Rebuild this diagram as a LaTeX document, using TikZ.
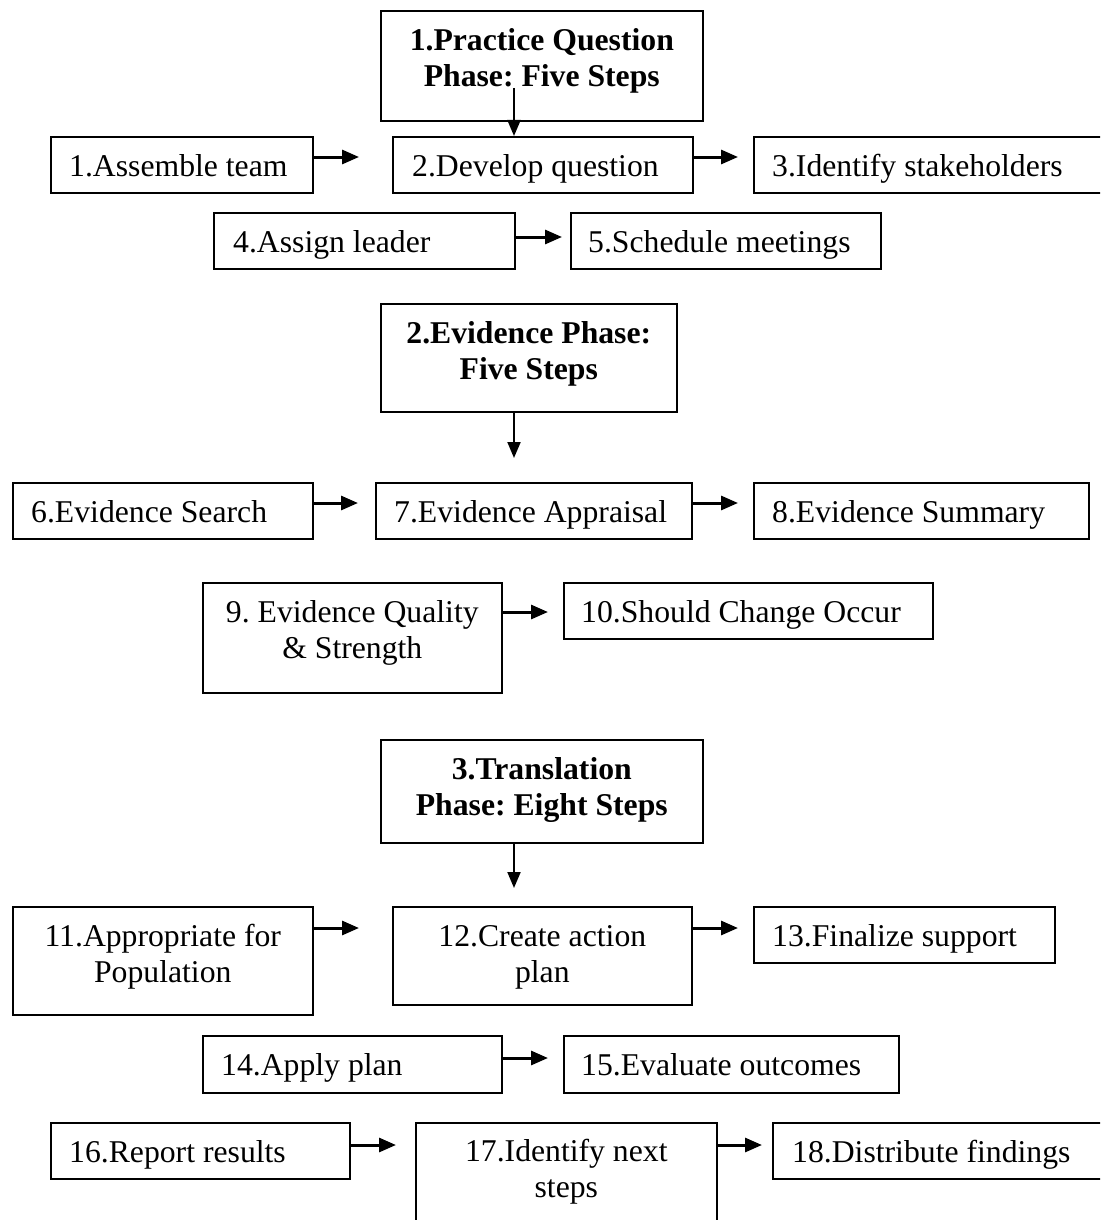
\documentclass[tikz,border=0pt]{standalone}
\usepackage{fontspec}
\setmainfont{Liberation Serif}
\usetikzlibrary{arrows.meta,calc}
\frenchspacing
\newcommand\stepfont{\fontsize{31.7}{36}\selectfont\frenchspacing}
\newcommand\stepstrut{\rule{0pt}{25pt}}
\begin{document}
\begin{tikzpicture}[x=1pt,y=-1pt,
  box/.style={draw, line width=1.6pt, inner sep=0pt, anchor=north west},
  ltxt/.style={anchor=north west, inner sep=0pt, font=\stepfont},
  ctxt/.style={anchor=north, inner sep=0pt, align=center, font=\stepfont},
  htxt/.style={anchor=north, inner sep=0pt, align=center, font=\stepfont\bfseries},
  harr/.style={line width=3pt, -{Triangle[length=17pt,width=14pt]}},
  varr/.style={line width=2pt, -{Triangle[length=16pt,width=13pt]}}]
\clip (0,0) rectangle (1100,1220);
\fill[white] (0,0) rectangle (1100,1220);

% ---------- boxes ----------
\node[box, minimum width=322pt, minimum height=110pt] (hA) at (380,10) {};
\node[box, minimum width=262pt, minimum height=56pt] (b1) at (50,136) {};
\node[box, minimum width=300pt, minimum height=56pt] (b2) at (392,136) {};
\node[box, minimum width=360pt, minimum height=56pt] (b3) at (753,136) {};
\node[box, minimum width=301pt, minimum height=56pt] (b4) at (213,212) {};
\node[box, minimum width=310pt, minimum height=56pt] (b5) at (570,212) {};

\node[box, minimum width=296pt, minimum height=108pt] (hB) at (380,303) {};
\node[box, minimum width=300pt, minimum height=56pt] (b6) at (12,482) {};
\node[box, minimum width=316pt, minimum height=56pt] (b7) at (375,482) {};
\node[box, minimum width=335pt, minimum height=56pt] (b8) at (753,482) {};
\node[box, minimum width=299pt, minimum height=110pt] (b9) at (202,582) {};
\node[box, minimum width=369pt, minimum height=56pt] (b10) at (563,582) {};

\node[box, minimum width=322pt, minimum height=103pt] (hC) at (380,739) {};
\node[box, minimum width=300pt, minimum height=108pt] (b11) at (12,906) {};
\node[box, minimum width=299pt, minimum height=98pt] (b12) at (392,906) {};
\node[box, minimum width=301pt, minimum height=56pt] (b13) at (753,906) {};
\node[box, minimum width=299pt, minimum height=57pt] (b14) at (202,1035) {};
\node[box, minimum width=335pt, minimum height=57pt] (b15) at (563,1035) {};
\node[box, minimum width=299pt, minimum height=56pt] (b16) at (50,1122) {};
\node[box, minimum width=301pt, minimum height=120pt] (b17) at (415,1122) {};
\node[box, minimum width=340pt, minimum height=56pt] (b18) at (772,1122) {};

% ---------- texts ----------
\node[htxt] (tA) at ($(hA.north)+(0,15)$) {\stepstrut 1.Practice Question\\Phase: Five Steps};
\node[ltxt] (t1) at ($(b1.north west)+(19,15)$) {\stepstrut 1.Assemble team};
\node[ltxt] (t2) at ($(b2.north west)+(20,15)$) {\stepstrut 2.Develop question};
\node[ltxt] (t3) at ($(b3.north west)+(19,15)$) {\stepstrut 3.Identify stakeholders};
\node[ltxt] (t4) at ($(b4.north west)+(20,15)$) {\stepstrut 4.Assign leader};
\node[ltxt] (t5) at ($(b5.north west)+(18,15)$) {\stepstrut 5.Schedule meetings};

\node[htxt] (tB) at ($(hB.north)+(0,15)$) {\stepstrut 2.Evidence Phase:\\Five Steps};
\node[ltxt] (t6) at ($(b6.north west)+(19,15)$) {\stepstrut 6.Evidence Search};
\node[ltxt] (t7) at ($(b7.north west)+(19,15)$) {\stepstrut 7.Evidence Appraisal};
\node[ltxt] (t8) at ($(b8.north west)+(19,15)$) {\stepstrut 8.Evidence Summary};
\node[ctxt] (t9) at ($(b9.north)+(0,15)$) {\stepstrut 9. Evidence Quality\\\& Strength};
\node[ltxt] (t10) at ($(b10.north west)+(18,15)$) {\stepstrut 10.Should Change Occur};

\node[htxt] (tC) at ($(hC.north)+(0,15)$) {\stepstrut 3.Translation\\Phase: Eight Steps};
\node[ctxt] (t11) at ($(b11.north)+(0,15)$) {\stepstrut 11.Appropriate for\\Population};
\node[ctxt] (t12) at ($(b12.north)+(0,15)$) {\stepstrut 12.Create action\\plan};
\node[ltxt] (t13) at ($(b13.north west)+(19,15)$) {\stepstrut 13.Finalize support};
\node[ltxt] (t14) at ($(b14.north west)+(19,15)$) {\stepstrut 14.Apply plan};
\node[ltxt] (t15) at ($(b15.north west)+(18,15)$) {\stepstrut 15.Evaluate outcomes};
\node[ltxt] (t16) at ($(b16.north west)+(19,15)$) {\stepstrut 16.Report results};
\node[ctxt] (t17) at ($(b17.north)+(0,14)$) {\stepstrut 17.Identify next\\steps};
\node[ltxt] (t18) at ($(b18.north west)+(20,15)$) {\stepstrut 18.Distribute findings};

% ---------- vertical arrows ----------
\coordinate (vA) at ($(hA.north west)+(134,78)$);
\draw[varr] (vA) -- (vA |- b2.north);
\coordinate (vB) at ($(hB.south west)+(134,0)$);
\draw[varr] (vB) -- ($(vB |- b7.north)+(0,-24)$);
\coordinate (vC) at ($(hC.south west)+(134,0)$);
\draw[varr] (vC) -- ($(vC |- b12.north)+(0,-18)$);

% ---------- horizontal arrows ----------
\draw[harr] ($(b1.north east)+(0,21)$) -- ($(b2.north west)+(-33,21)$);
\draw[harr] ($(b2.north east)+(0,21)$) -- ($(b3.north west)+(-15,21)$);
\draw[harr] ($(b4.north east)+(0,25)$) -- ($(b5.north west)+(-8,25)$);
\draw[harr] ($(b6.north east)+(0,21)$) -- ($(b7.north west)+(-17,21)$);
\draw[harr] ($(b7.north east)+(0,21)$) -- ($(b8.north west)+(-15,21)$);
\draw[harr] ($(b9.north east)+(0,30)$) -- ($(b10.north west)+(-15,30)$);
\draw[harr] ($(b11.north east)+(0,22)$) -- ($(b12.north west)+(-33,22)$);
\draw[harr] ($(b12.north east)+(0,22)$) -- ($(b13.north west)+(-15,22)$);
\draw[harr] ($(b14.north east)+(0,23)$) -- ($(b15.north west)+(-15,23)$);
\draw[harr] ($(b16.north east)+(0,23)$) -- ($(b17.north west)+(-19,23)$);
\draw[harr] ($(b17.north east)+(0,23)$) -- ($(b18.north west)+(-10,23)$);
\end{tikzpicture}
\end{document}
